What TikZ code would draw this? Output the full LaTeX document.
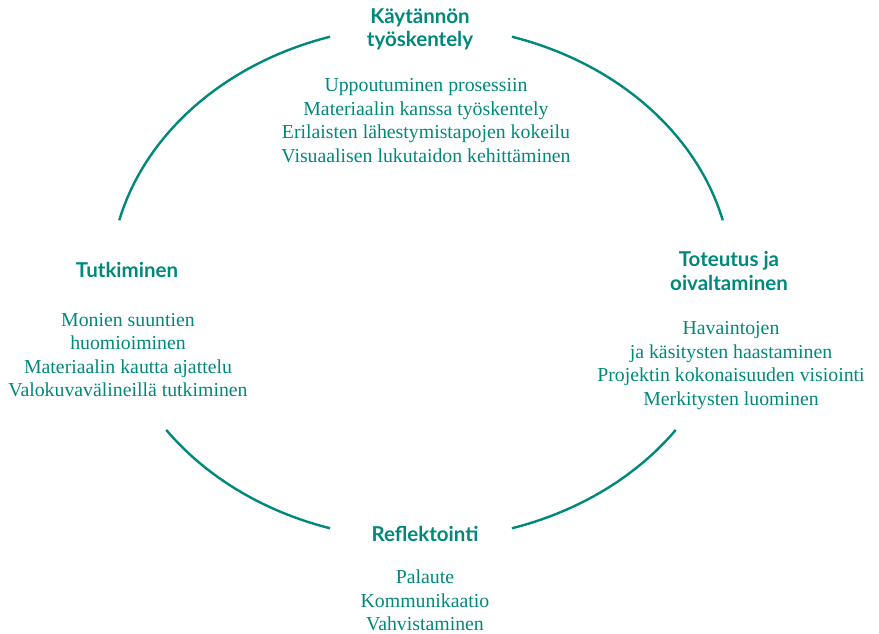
\documentclass[tikz,border=0pt]{standalone}
\usepackage{fontspec}
\setmainfont{Liberation Serif}
\newfontfamily\headfont{Lato}
\usetikzlibrary{positioning}

\definecolor{ringteal}{RGB}{0,137,123}

\begin{document}
\begin{tikzpicture}[
    x=1pt,
    y=-1pt,
    thick
  ]

  % Styles
  \tikzstyle{ring}=[draw=ringteal, line width=2.4pt]
  \tikzstyle{heading}=[text=ringteal, align=center, font=\headfont\bfseries\fontsize{20.5}{23.5}\selectfont]
  \tikzstyle{items}=[text=ringteal, align=center, inner sep=1pt, font=\fontsize{19.8}{23.4}\selectfont]

  \useasboundingbox (0,0) rectangle (879,634);

  % Centre of the ring
  \coordinate (c) at (421,282.5);

  % Ring in four arcs
  \draw[ring] (c) ++(166:311pt and 257pt) arc[start angle=166, end angle=107, x radius=311pt, y radius=257pt];
  \draw[ring] (c) ++(73:311pt and 257pt) arc[start angle=73, end angle=14, x radius=311pt, y radius=257pt];
  \draw[ring] (c) ++(-35:311pt and 257pt) arc[start angle=-35, end angle=-73, x radius=311pt, y radius=257pt];
  \draw[ring] (c) ++(-107:311pt and 257pt) arc[start angle=-107, end angle=-145, x radius=311pt, y radius=257pt];

  % Top
  \node[heading] (kaytanto) at (420,29.5) {Käytännön\\työskentely};
  \node[items] (kaytantolist) at (426,120.5) {Uppoutuminen prosessiin\\Materiaalin kanssa työskentely\\Erilaisten lähestymistapojen kokeilu\\Visuaalisen lukutaidon kehittäminen};

  % Left
  \node[heading] (tutkiminen) at (127,270) {Tutkiminen};
  \node[items] (tutkiminenlist) at (128,355) {Monien suuntien\\huomioiminen\\Materiaalin kautta ajattelu\\Valokuvavälineillä tutkiminen};

  % Right
  \node[heading] (toteutus) at (729,271) {Toteutus ja\\oivaltaminen};
  \node[items] (toteutuslist) at (731,365.5) {Havaintojen\\ja käsitysten haastaminen\\Projektin kokonaisuuden visiointi\\Merkitysten luominen};

  % Bottom
  \node[heading] (reflektointi) at (425,534) {Reflektointi};
  \node[items] (reflektointilist) at (425,600.5) {Palaute\\Kommunikaatio\\Vahvistaminen};

\end{tikzpicture}
\end{document}
